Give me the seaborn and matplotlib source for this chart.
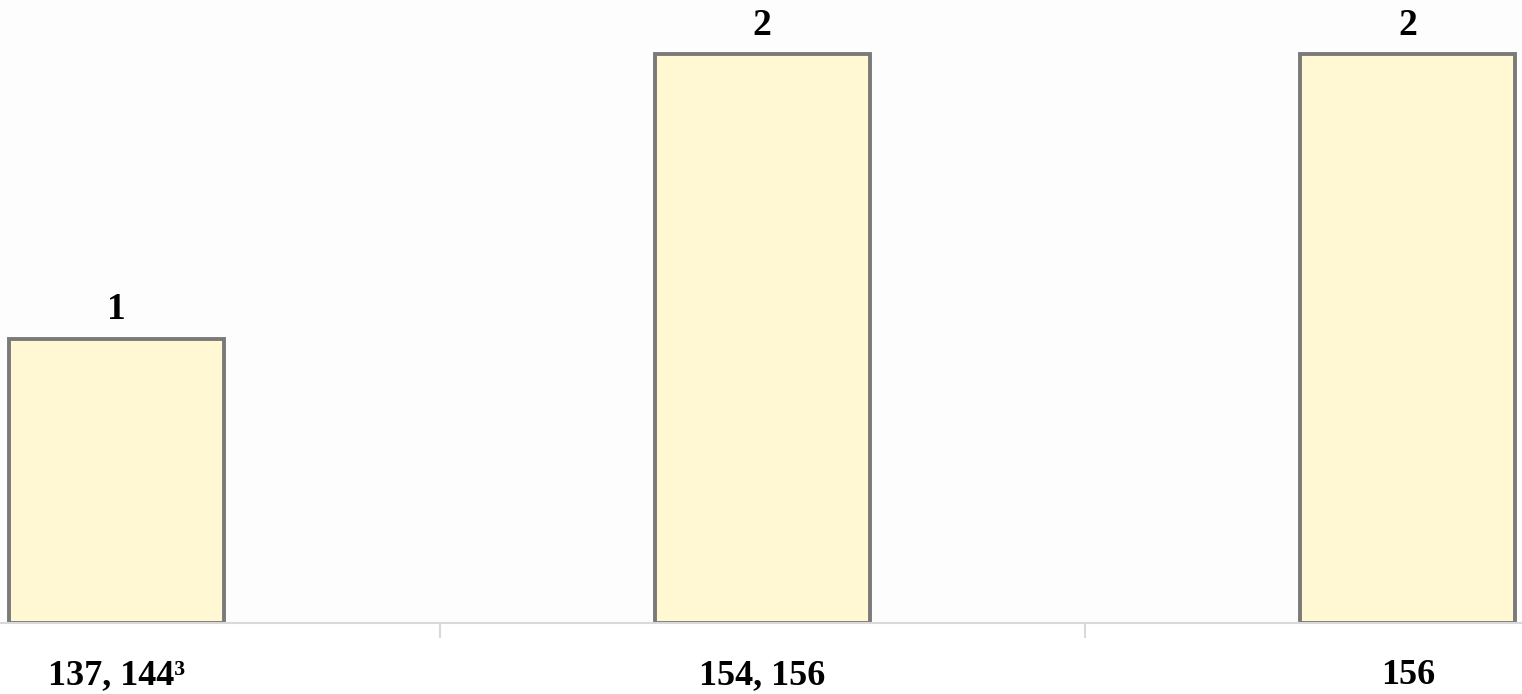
import matplotlib
matplotlib.use("Agg")
import matplotlib.pyplot as plt
import seaborn as sns
import pandas as pd
from matplotlib.ticker import FixedLocator

categories = ["137, 144³", "154, 156", "156"]
values = [1, 2, 2]

sns.set_theme(style="white")
plt.rcParams['font.family'] = ['Liberation Serif', 'DejaVu Serif']

df = pd.DataFrame({"cat": categories, "val": values})

fig = plt.figure(figsize=(15.22, 6.94), dpi=100)
fig.patch.set_facecolor("white")
ax = fig.add_axes([0, (694 - 623) / 694, 1, 623 / 694])
ax.set_facecolor("#FDFDFD")

sns.barplot(data=df, x="cat", y="val", ax=ax, color="#FFF8D2", width=0.333,
            edgecolor="#7A7A7A", linewidth=2.8, saturation=1)

for p, v in zip(ax.patches, values):
    ax.text(p.get_x() + p.get_width() / 2, p.get_height() + 0.04, str(v),
            ha="center", va="bottom", fontsize=27, fontweight="bold", color="black",
            clip_on=False)

ax.set_xlim(-0.181, 2.177)
ax.set_ylim(0, 2.19)
ax.set_xlabel("")
ax.set_ylabel("")
ax.set_yticks([])
for s in ["top", "left", "right"]:
    ax.spines[s].set_visible(False)
ax.spines["bottom"].set_color("#D9D9D9")
ax.spines["bottom"].set_linewidth(1.5)

ax.tick_params(axis="x", which="major", length=0, pad=26, labelsize=26)
ax.xaxis.set_minor_locator(FixedLocator([0.5, 1.5]))
ax.tick_params(axis="x", which="minor", length=11, width=1.5, color="#D9D9D9", direction="out", bottom=True)
for lbl in ax.get_xticklabels():
    lbl.set_fontweight("bold")
    lbl.set_color("black")

fig.savefig("out.png", dpi=100)
